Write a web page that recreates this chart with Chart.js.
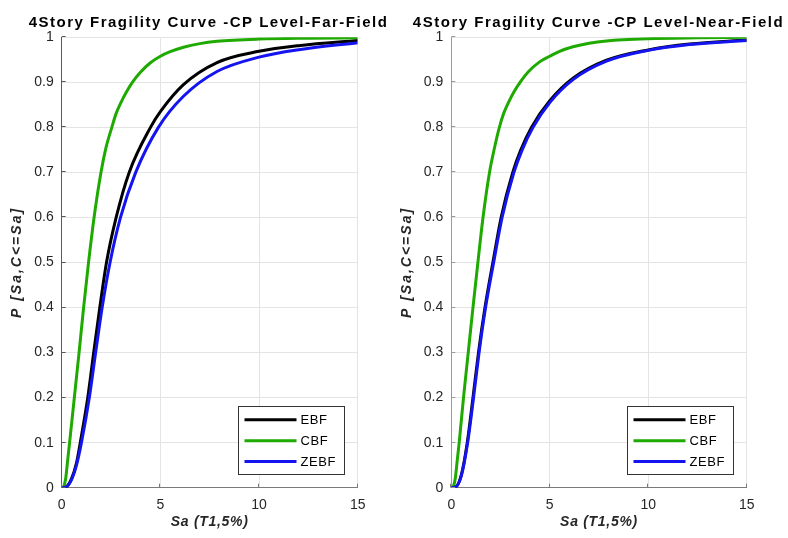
<!DOCTYPE html>
<html>
<head>
<meta charset="utf-8">
<script src="https://cdn.jsdelivr.net/npm/chart.js@4.4.0/dist/chart.umd.min.js"></script>
<style>
html,body{margin:0;padding:0;background:#fff;overflow:hidden;width:788px;height:538px;position:relative}
canvas{position:absolute;top:0}
#c1{left:0}
#c2{left:390px}
</style>
</head>
<body>
<canvas id="c1" width="417" height="538"></canvas>
<canvas id="c2" width="417" height="538"></canvas>
<script>
// ---------- data ----------
const seriesNames = ['EBF', 'CBF', 'ZEBF'];
const xTickValues = [0, 5, 10, 15];
const xTickLabels = ['0', '5', '10', '15'];
const yTickValues = [0, 0.1, 0.2, 0.3, 0.4, 0.5, 0.6, 0.7, 0.8, 0.9, 1];
const yTickLabels = ['0', '0.1', '0.2', '0.3', '0.4', '0.5', '0.6', '0.7', '0.8', '0.9', '1'];
const titleFar = '4Story Fragility Curve -CP Level-Far-Field';
const titleNear = '4Story Fragility Curve -CP Level-Near-Field';
const xTitle = 'Sa (T1,5%)';
const yTitle = 'P [Sa,C<=Sa]';

// Far-Field
const farSaEBF = [0, 0.2, 0.5, 0.75, 0.94, 1.32, 1.62, 1.93, 2.27, 2.76, 3.42, 4.5, 5, 6.17, 7.87, 10, 12.1, 15];
const farPEBF  = [0, 0.001, 0.02, 0.055, 0.1, 0.2, 0.3, 0.4, 0.5, 0.6, 0.7, 0.8, 0.835, 0.895, 0.944, 0.969, 0.982, 0.993];
const farSaCBF = [0, 0.1, 0.2, 0.3, 0.4, 0.64, 0.88, 1.11, 1.36, 1.64, 1.99, 2.25, 2.54, 2.75, 3.0, 3.3, 3.58, 4.0, 4.48, 5, 5.5, 6.17, 7, 7.87, 10, 12.5, 15];
const farPCBF  = [0, 0.003, 0.02, 0.06, 0.1, 0.2, 0.3, 0.4, 0.5, 0.6, 0.7, 0.756, 0.8, 0.83, 0.855, 0.88, 0.9, 0.923, 0.943, 0.958, 0.968, 0.978, 0.986, 0.991, 0.996, 0.998, 0.999];
const farSaZEBF = [0, 0.2, 0.5, 0.75, 1.0, 1.4, 1.72, 2.05, 2.45, 2.98, 3.75, 4.9, 6.17, 7.87, 10, 12.1, 15];
const farPZEBF  = [0, 0.001, 0.018, 0.05, 0.1, 0.2, 0.3, 0.4, 0.5, 0.6, 0.7, 0.8, 0.869, 0.924, 0.956, 0.973, 0.988];

// Near-Field
const nearSaEBF = [0, 0.2, 0.5, 0.81, 1.10, 1.38, 1.71, 2.11, 2.53, 3.12, 3.53, 4.07, 5, 6.18, 7.88, 10, 12.1, 15];
const nearPEBF  = [0, 0.001, 0.027, 0.1, 0.2, 0.3, 0.4, 0.5, 0.6, 0.7, 0.75, 0.8, 0.859, 0.909, 0.949, 0.972, 0.985, 0.994];
const nearSaCBF = [0, 0.1, 0.2, 0.3, 0.4, 0.62, 0.86, 1.1, 1.35, 1.61, 1.94, 2.2, 2.44, 2.65, 2.9, 3.2, 3.49, 3.9, 4.5, 5, 5.5, 6.18, 7, 7.88, 10, 12.5, 15];
const nearPCBF  = [0, 0.003, 0.02, 0.06, 0.1, 0.2, 0.3, 0.4, 0.5, 0.6, 0.7, 0.756, 0.8, 0.83, 0.855, 0.88, 0.9, 0.923, 0.946, 0.958, 0.969, 0.979, 0.987, 0.992, 0.997, 0.999, 1.0];
const nearSaZEBF = [0, 0.2, 0.5, 0.83, 1.13, 1.41, 1.74, 2.15, 2.58, 3.18, 3.6, 4.15, 5, 6.18, 7.88, 10, 12.1, 15];
const nearPZEBF  = [0, 0.001, 0.025, 0.1, 0.2, 0.3, 0.4, 0.5, 0.6, 0.7, 0.75, 0.8, 0.855, 0.906, 0.947, 0.971, 0.984, 0.993];

// ---------- styling ----------
const FONT = '"Liberation Sans", Arial, Helvetica, sans-serif';
const lineColors = ['#000000', '#1eaa00', '#1414f0'];
const drawOrder = [2, 1, 0];

const inwardTicks = {
  id: 'inwardTicks',
  afterDraw(chart, args, opts) {
    const {ctx, chartArea: a, scales: {x, y}} = chart;
    ctx.save();
    ctx.lineWidth = 1;
    ctx.strokeStyle = opts.xColor;
    ctx.beginPath();
    x.ticks.forEach(t => {
      const px = Math.round(x.getPixelForValue(t.value)) - 0.5;
      ctx.moveTo(px, a.bottom);
      ctx.lineTo(px, a.bottom - 4);
    });
    ctx.stroke();
    ctx.strokeStyle = opts.yColor;
    ctx.beginPath();
    y.ticks.forEach(t => {
      const py = Math.round(y.getPixelForValue(t.value)) - 0.5;
      ctx.moveTo(a.left, py);
      ctx.lineTo(a.left + 4, py);
    });
    ctx.stroke();
    ctx.restore();
  }
};

const boxLegend = {
  id: 'boxLegend',
  afterDraw(chart) {
    const {ctx, chartArea: a} = chart;
    const w = 106, h = 68;
    const left = Math.round(a.right - 13.7 - w) + 0.5;
    const top = Math.round(a.bottom - 13.7 - h) + 0.5;
    ctx.save();
    ctx.fillStyle = '#ffffff';
    ctx.fillRect(left, top, w, h);
    ctx.strokeStyle = '#333333';
    ctx.lineWidth = 1;
    ctx.strokeRect(left, top, w, h);
    ctx.font = '13px ' + FONT;
    ctx.letterSpacing = '0.6px';
    ctx.textBaseline = 'middle';
    ctx.textAlign = 'left';
    chart.data.datasets.forEach((ds, i) => {
      const yy = top + 13.3 + i * 20.9;
      ctx.strokeStyle = ds.borderColor;
      ctx.lineWidth = 3;
      ctx.beginPath();
      ctx.moveTo(left + 6, yy);
      ctx.lineTo(left + 58, yy);
      ctx.stroke();
      ctx.fillStyle = '#000000';
      ctx.fillText(ds.label, left + 62, yy + 0.5);
    });
    ctx.restore();
  }
};

function withSpacing(obj, method, spacing) {
  const orig = obj[method];
  obj[method] = function (...args) {
    const ctx = this.ctx;
    const prev = ctx.letterSpacing;
    ctx.letterSpacing = spacing;
    try { return orig.apply(this, args); } finally { ctx.letterSpacing = prev; }
  };
}

function makeChart(id, title, series, yAxisColor, xAxisColor, yWidth, spacerWidth) {
  const datasets = series.map((s, i) => ({
    label: seriesNames[i],
    data: s[0].map((xv, k) => ({x: xv, y: s[1][k]})),
    borderColor: lineColors[i],
    backgroundColor: lineColors[i],
    borderWidth: 3,
    pointRadius: 0,
    fill: false,
    cubicInterpolationMode: 'monotone',
    order: drawOrder[i]
  }));
  const chart = new Chart(document.getElementById(id), {
    type: 'line',
    data: {datasets},
    options: {
      responsive: false,
      animation: false,
      devicePixelRatio: 1,
      layout: {padding: 0},
      events: [],
      plugins: {
        legend: {display: false},
        tooltip: {enabled: false},
        title: {
          display: true, text: title, color: '#000000',
          font: {family: FONT, size: 15, weight: 'bold'},
          padding: {top: 14, bottom: 5.3}
        },
        inwardTicks: {xColor: xAxisColor, yColor: yAxisColor}
      },
      scales: {
        x: {
          type: 'linear', min: 0, max: 15,
          afterBuildTicks(s) { s.ticks = xTickValues.map(v => ({value: v})); },
          afterFit(s) { s.height = 50.3; },
          ticks: {
            callback: (v, i) => xTickLabels[i],
            color: '#262626', font: {family: FONT, size: 14},
            padding: 9, maxRotation: 0, autoSkip: false
          },
          grid: {color: '#e4e4e4', drawTicks: false},
          border: {display: true, color: xAxisColor, width: 1},
          title: {
            display: true, text: xTitle, color: '#262626',
            font: {family: FONT, size: 14, weight: 'bold', style: 'italic'},
            padding: {top: 0, bottom: 7.6}
          }
        },
        y: {
          type: 'linear', min: 0, max: 1,
          afterBuildTicks(s) { s.ticks = yTickValues.map(v => ({value: v})); },
          afterFit(s) { s.width = yWidth; },
          ticks: {
            callback: (v, i) => yTickLabels[i],
            color: '#262626', font: {family: FONT, size: 14},
            padding: 8, autoSkip: false
          },
          grid: {color: '#e4e4e4', drawTicks: false},
          border: {display: true, color: yAxisColor, width: 1},
          title: {
            display: true, text: yTitle, color: '#262626',
            font: {family: FONT, size: 14, weight: 'bold', style: 'italic'},
            padding: {top: 8.5, bottom: 0}
          }
        },
        spacer: {
          type: 'linear', position: 'right', display: true,
          grid: {display: false, drawTicks: false},
          ticks: {display: false},
          border: {display: false},
          afterFit(s) { s.width = spacerWidth; }
        }
      }
    },
    plugins: [inwardTicks, boxLegend]
  });
  withSpacing(chart.titleBlock, 'draw', '1.5px');
  withSpacing(chart.scales.y, 'drawTitle', '2px');
  withSpacing(chart.scales.x, 'drawTitle', '0.7px');
  chart.draw();
  return chart;
}

makeChart('c1', titleFar,
  [[farSaEBF, farPEBF], [farSaCBF, farPCBF], [farSaZEBF, farPZEBF]],
  '#595959', '#7a7a7a', 61.7, 59.3);
makeChart('c2', titleNear,
  [[nearSaEBF, nearPEBF], [nearSaCBF, nearPCBF], [nearSaZEBF, nearPZEBF]],
  '#9a9a9a', '#7a7a7a', 61.3, 60.3);
</script>
</body>
</html>
